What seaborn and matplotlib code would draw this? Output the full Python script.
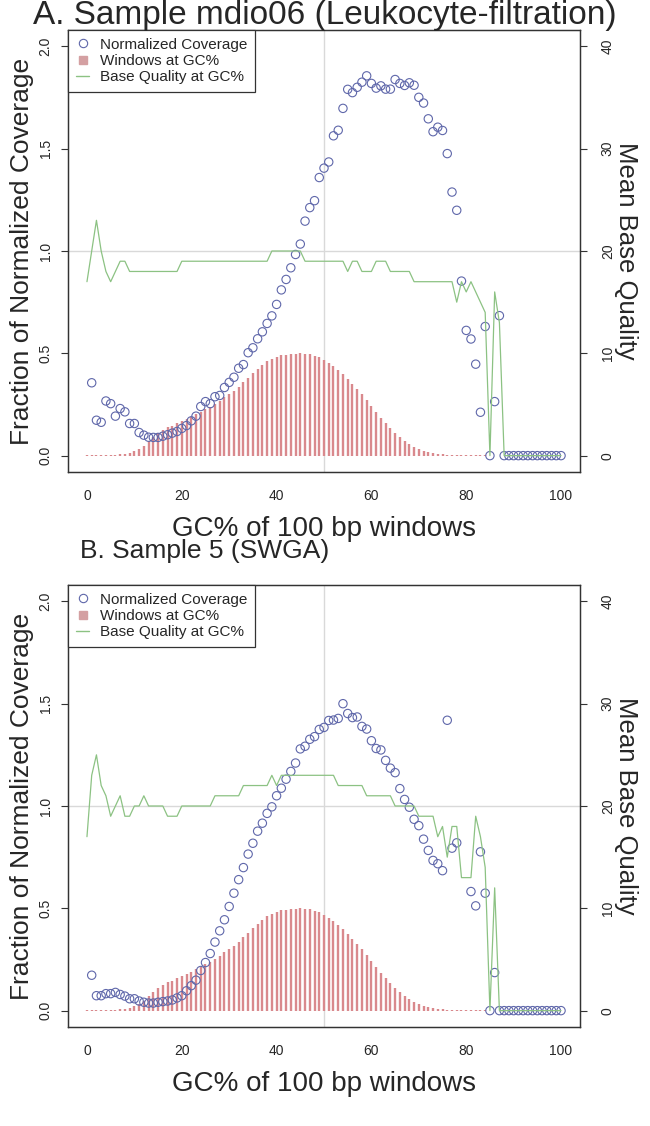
import numpy as np
import matplotlib
matplotlib.use("Agg")
import matplotlib.pyplot as plt
import seaborn as sns
from matplotlib.lines import Line2D

# ---------------- data ----------------
gc_pct = np.arange(0, 101)

# fraction of 100 bp windows at each GC% (same reference genome in both panels)
windows_at_gc = [
    0.004, 0.004, 0.004, 0.004, 0.004, 0.004, 0.005, 0.006, 0.008, 0.012,
    0.021, 0.032, 0.049, 0.070, 0.091, 0.110, 0.123, 0.138, 0.147, 0.159,
    0.170, 0.181, 0.191, 0.202, 0.215, 0.227, 0.239, 0.252, 0.269, 0.285,
    0.301, 0.317, 0.337, 0.358, 0.380, 0.403, 0.424, 0.445, 0.461, 0.474,
    0.484, 0.490, 0.494, 0.496, 0.498, 0.500, 0.499, 0.495, 0.489, 0.481,
    0.469, 0.455, 0.438, 0.420, 0.398, 0.374, 0.350, 0.324, 0.300, 0.270,
    0.243, 0.214, 0.186, 0.160, 0.134, 0.112, 0.091, 0.071, 0.057, 0.042,
    0.031, 0.023, 0.016, 0.011, 0.008, 0.006, 0.004, 0.004, 0.004, 0.004,
    0.004, 0.004, 0.004, 0.004, 0.004, 0.0, 0.0, 0.0, 0.0, 0.0,
    0.0, 0.0, 0.0, 0.0, 0.0, 0.0, 0.0, 0.0, 0.0, 0.0, 0.0,
]

nan = np.nan

# panel A: mdio06 (Leukocyte-filtration)
cov_a = [
    nan, 0.356, 0.173, 0.163, 0.267, 0.254, 0.193, 0.230, 0.214, 0.157,
    0.157, 0.113, 0.100, 0.090, 0.089, 0.089, 0.095, 0.102, 0.110, 0.118,
    0.133, 0.147, 0.170, 0.193, 0.240, 0.264, 0.254, 0.288, 0.294, 0.333,
    0.358, 0.383, 0.427, 0.445, 0.503, 0.527, 0.571, 0.605, 0.646, 0.683,
    0.739, 0.810, 0.861, 0.918, 0.983, 1.034, 1.146, 1.212, 1.246, 1.359,
    1.405, 1.435, 1.563, 1.590, 1.697, 1.790, 1.774, 1.800, 1.825, 1.856,
    1.819, 1.796, 1.807, 1.791, 1.791, 1.838, 1.819, 1.809, 1.822, 1.810,
    1.751, 1.723, 1.646, 1.583, 1.605, 1.589, 1.476, 1.288, 1.199, 0.853,
    0.612, 0.570, 0.447, 0.212, 0.631, 0.0, 0.264, 0.684, 0.0, 0.0,
    0.0, 0.0, 0.0, 0.0, 0.0, 0.0, 0.0, 0.0, 0.0, 0.0, 0.0,
]
qual_a = [
    17, 20, 23, 20, 18, 17, 18, 19, 19, 18,
    18, 18, 18, 18, 18, 18, 18, 18, 18, 18,
    19, 19, 19, 19, 19, 19, 19, 19, 19, 19,
    19, 19, 19, 19, 19, 19, 19, 19, 19, 20,
    20, 20, 20, 20, 20, 20, 19, 19, 19, 19,
    19, 19, 19, 19, 19, 18, 19, 19, 18, 18,
    18, 19, 19, 19, 18, 18, 18, 18, 18, 17,
    17, 17, 17, 17, 17, 17, 17, 17, 15, 17,
    16, 17, 16, 15, 14, 0, 16, 13, 0, 0,
    0, 0, 0, 0, 0, 0, 0, 0, 0, 0, 0,
]

# panel B: sample 5 (SWGA)
cov_b = [
    nan, 0.173, 0.073, 0.073, 0.083, 0.083, 0.089, 0.079, 0.071, 0.058,
    0.058, 0.047, 0.041, 0.037, 0.037, 0.041, 0.044, 0.047, 0.052, 0.062,
    0.073, 0.097, 0.122, 0.149, 0.196, 0.235, 0.279, 0.335, 0.390, 0.444,
    0.509, 0.574, 0.640, 0.699, 0.765, 0.818, 0.877, 0.916, 0.964, 0.996,
    1.050, 1.087, 1.131, 1.169, 1.210, 1.279, 1.292, 1.326, 1.339, 1.374,
    1.384, 1.418, 1.420, 1.428, 1.500, 1.452, 1.432, 1.435, 1.389, 1.376,
    1.319, 1.281, 1.274, 1.223, 1.185, 1.163, 1.085, 1.032, 0.994, 0.935,
    0.904, 0.838, 0.783, 0.734, 0.718, 0.684, 1.419, 0.794, 0.820, nan,
    nan, 0.582, 0.512, 0.776, 0.574, 0.0, 0.186, 0.0, 0.0, 0.0,
    0.0, 0.0, 0.0, 0.0, 0.0, 0.0, 0.0, 0.0, 0.0, 0.0, 0.0,
]
qual_b = [
    17, 23, 25, 22, 21, 19, 20, 21, 19, 19,
    20, 20, 21, 20, 20, 20, 20, 19, 19, 19,
    20, 20, 20, 20, 20, 20, 20, 21, 21, 21,
    21, 21, 21, 22, 22, 22, 22, 22, 22, 23,
    22, 23, 23, 23, 23, 23, 23, 23, 23, 23,
    23, 23, 23, 22, 22, 22, 22, 22, 22, 21,
    21, 21, 21, 21, 21, 20, 20, 20, 20, 20,
    19, 19, 19, 19, 17, 18, 15, 18, 18, 13,
    13, 13, 19, 17, 14, 0, 12, 0, 0, 0,
    0, 0, 0, 0, 0, 0, 0, 0, 0, 0, 0,
]

legend_labels = ["Normalized Coverage", "Windows at GC%", "Base Quality at GC%"]

# ---------------- style ----------------
sns.set_style("white")
plt.rcParams["font.family"] = ["Liberation Sans", "DejaVu Sans"]

BLUE = "#5f67aa"
RED = "#d9898d"
RED_KEY = "#d4a0a2"
GREEN = "#8cc283"
GRID = "#d9d9d9"
FRAME = "#333333"

W, H = 650, 1126
fig = plt.figure(figsize=(W / 100, H / 100), dpi=100)


def draw_panel(box, cov, qual):
    left, top, right, bottom = box
    ax = fig.add_axes([left / W, 1 - bottom / H, (right - left) / W, (bottom - top) / H])

    ax.axhline(1.0, color=GRID, lw=1, zorder=0)
    ax.axvline(50, color=GRID, lw=1, zorder=0)

    ax.vlines(gc_pct, 0, windows_at_gc, color=RED, lw=1.7, zorder=1)
    sns.scatterplot(x=gc_pct, y=cov, ax=ax, marker="o", s=36,
                    facecolor="none", edgecolor=BLUE, linewidth=0.8, zorder=3)

    ax.set_xlim(-4, 104)
    ax.set_ylim(-0.08, 2.08)
    ax.set_xticks([0, 20, 40, 60, 80, 100])
    ax.set_yticks([0.0, 0.5, 1.0, 1.5, 2.0])
    ax.set_yticklabels(["0.0", "0.5", "1.0", "1.5", "2.0"])

    ax2 = ax.twinx()
    sns.lineplot(x=gc_pct, y=qual, ax=ax2, color=GREEN, lw=0.9, zorder=2)
    ax2.set_ylim(-1.6, 41.6)
    ax2.set_yticks([0, 10, 20, 30, 40])
    ax2.set_ylabel("")

    for a in (ax, ax2):
        for sp in a.spines.values():
            sp.set_color(FRAME)
            sp.set_linewidth(0.9)
    ax.tick_params(axis="x", length=5, width=0.8, color=FRAME, pad=7.5, labelsize=10)
    ax.tick_params(axis="y", length=5, width=0.8, color=FRAME, pad=6, labelsize=10,
                   labelrotation=90)
    for t in ax.get_yticklabels():
        t.set_va("center")
    ax2.tick_params(axis="y", length=5, width=0.8, color=FRAME, pad=10, labelsize=10,
                    labelrotation=90)
    for t in ax2.get_yticklabels():
        t.set_va("center")

    handles = [
        Line2D([], [], ls="none", marker="o", mfc="none", mec=BLUE, ms=6, mew=0.8),
        Line2D([], [], ls="none", marker="s", color=RED_KEY, ms=6),
        Line2D([], [], color=GREEN, lw=1),
    ]
    leg = ax2.legend(handles, legend_labels, loc="upper left", bbox_to_anchor=(0, 1),
                     borderaxespad=0, fontsize=11, frameon=True, fancybox=False,
                     framealpha=1, edgecolor=FRAME, handlelength=0.9,
                     handletextpad=0.7, labelspacing=0.15, borderpad=0.5)
    leg.get_frame().set_linewidth(0.9)

    # axis titles placed like the original
    cx = (left + right) / 2 / W
    cy = 1 - (top + bottom) / 2 / H
    fig.text(22 / W, cy, "Fraction of Normalized Coverage", rotation=90,
             ha="center", va="center", fontsize=19)
    fig.text(626 / W, cy, "Mean Base Quality", rotation=270,
             ha="center", va="center", fontsize=18.5)
    fig.text(cx, 1 - (bottom + 57) / H, "GC% of 100 bp windows",
             ha="center", va="center", fontsize=20)
    return ax


draw_panel((68, 30, 580, 472), cov_a, qual_a)
draw_panel((68, 585, 580, 1027), cov_b, qual_b)

fig.text(33 / W, 1 - 24 / H, "A. Sample mdio06 (Leukocyte-filtration)",
         ha="left", va="baseline", fontsize=24)
fig.text(80 / W, 1 - 558 / H, "B. Sample 5 (SWGA)",
         ha="left", va="baseline", fontsize=19)

fig.savefig("out.png", dpi=100)
